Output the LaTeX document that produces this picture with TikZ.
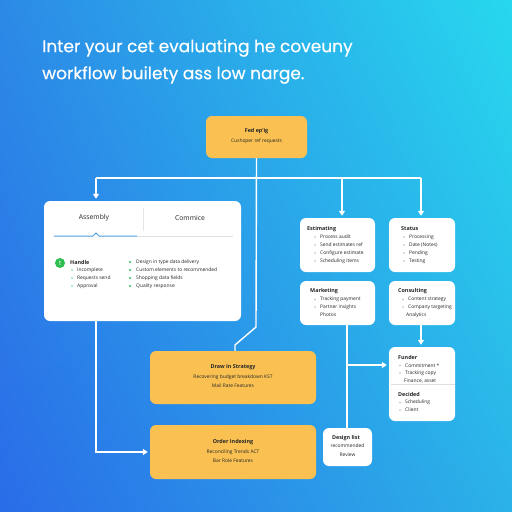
\documentclass[tikz,border=0pt]{standalone}
\usepackage{fontspec}
\setmainfont{Open Sans}
\newfontfamily\titlefont[FakeBold=0.4]{Poppins}
\usetikzlibrary{arrows.meta,shadings}
\definecolor{bgll}{HTML}{2A6CE8}
\definecolor{bglr}{HTML}{2BB2E8}
\definecolor{bgul}{HTML}{2C8AE6}
\definecolor{bgur}{HTML}{27D8EE}
\definecolor{amber}{HTML}{FAC152}
\definecolor{ink}{HTML}{262626}
\definecolor{tabblue}{HTML}{4A9BE0}
\definecolor{okgreen}{HTML}{2DBE4E}
\tikzset{
  wire/.style={draw=white, line width=1.4pt},
  arrow/.style={wire, -{Triangle[length=5pt,width=6pt]}, shorten >=2pt},
  card/.style={fill=white, rounded corners=6pt, inner sep=0pt},
  ybox/.style={fill=amber, rounded corners=6pt, inner sep=0pt},
  txt/.style={font=\fontsize{4.9}{5.5}\selectfont, text=ink, inner sep=0pt, anchor=west},
  hd/.style={txt, font=\fontsize{5.4}{6}\selectfont\bfseries},
  mid/.style={txt, anchor=center},
  dot/.style={circle, fill=gray!55, inner sep=0pt, minimum size=1.6pt},
}
\begin{document}
\begin{tikzpicture}[x=1pt,y=-1pt]
  \useasboundingbox (0,0) rectangle (512,512);
  \shade[lower left=bgll, lower right=bglr, upper left=bgul, upper right=bgur] (0,0) rectangle (512,512);
  % heading
  \node[anchor=west, inner sep=0pt, text=white, font=\titlefont\fontsize{17}{20}\selectfont] (head1) at (42,48) {Inter your cet evaluating he coveuny};
  \node[anchor=west, inner sep=0pt, text=white, font=\titlefont\fontsize{17}{20}\selectfont] (head2) at (42,75) {workflow builety ass low narge.};

  % boxes
  \node[ybox, minimum width=101pt, minimum height=42pt] (feat) at (256.5,137) {};
  \node[card, minimum width=197pt, minimum height=120pt] (acct) at (142.5,261) {};
  \node[card, minimum width=75pt, minimum height=54pt] (estim) at (337.5,245) {};
  \node[card, minimum width=66pt, minimum height=54pt] (status) at (422,245) {};
  \node[card, minimum width=75pt, minimum height=44pt] (mkt) at (337.5,303) {};
  \node[card, minimum width=66pt, minimum height=44pt] (consult) at (422,303) {};
  \node[card, minimum width=66pt, minimum height=74pt] (fund) at (422,384) {};
  \node[card, minimum width=49pt, minimum height=38pt] (design) at (347.5,447) {};
  \node[ybox, minimum width=166pt, minimum height=53pt] (strat) at (233,377.5) {};
  \node[ybox, minimum width=166pt, minimum height=54pt] (order) at (233,452) {};

  % connectors
  \coordinate (busL) at (96,178);
  \coordinate (busA) at (342,178);
  \coordinate (busR) at (421,178);
  \coordinate (bend) at (235,345);
  \coordinate (tap) at (347,365);
  \draw[wire] (busL) -- (busR);
  \draw[arrow] (busL) -- (busL |- acct.north);
  \draw[arrow] (busA) -- (busA |- estim.north);
  \draw[arrow] (busR) -- (busR |- status.north);
  \draw[wire] (feat.south) -- (256,327) -- (bend) -- (bend |- strat.north);
  \draw[arrow] (acct.south -| busL) -- (busL |- order.west) -- (order.west);
  \draw[arrow] (consult.south -| busR) -- (busR |- fund.north);
  \draw[wire] (mkt.south -| tap) -- (tap |- design.north);
  \draw[arrow] (tap) -- (tap -| fund.west);

  % top box
  \node[mid, font=\fontsize{5.4}{6}\selectfont\bfseries] (featT) at (256.5,131) {Fed ep'ig};
  \node[mid] (featS) at (256.5,141) {Cushoper ref requests};

  % tabs
  \node[mid, font=\fontsize{6.8}{8}\selectfont] (tabA) at (94,218) {Assembly};
  \node[mid, font=\fontsize{6.8}{8}\selectfont] (tabC) at (190,218) {Commice};
  \draw[gray!20, line width=0.8pt] (143,208) -- (143,231);
  \draw[gray!25, line width=1pt] (137,236) -- (233,236);
  \draw[tabblue, line width=1pt] (54,236) -- (93,236) -- (96,233) -- (99,236) -- (137,236);
  \node[circle, fill=okgreen, minimum size=10pt, inner sep=0pt, text=white, font=\fontsize{6}{6}\selectfont\bfseries] (chk) at (60,263) {!};
  \node[hd] (hand) at (70,262) {Handle};
  \foreach \t [count=\i] in {Incomplete,Requests send,Approval} {
    \node[dot, fill=okgreen!70] (ad\i) at (72,262+8*\i) {};
    \node[txt] (at\i) at (77,262+8*\i) {\t};
  }
  \foreach \t [count=\i from 0] in {Design in type data delivery,Custom elements to recommended,Shopping data fields,Quality response} {
    \node[dot, fill=okgreen, minimum size=2.2pt] (cd\i) at (130,262+8*\i) {};
    \node[txt] (ct\i) at (136,262+8*\i) {\t};
  }

  % estimating
  \node[hd] (estT) at (307,229) {Estimating};
  \foreach \t [count=\i] in {Process audit,Send estimates ref,Configure estimate,Scheduling items} {
    \node[dot] (ed\i) at (315,229+8*\i) {};
    \node[txt] (et\i) at (320,229+8*\i) {\t};
  }
  % status
  \node[hd] (stT) at (401,229) {Status};
  \foreach \t [count=\i] in {Processing,Date (Notes),Pending,Testing} {
    \node[dot] (sd\i) at (404,229+8*\i) {};
    \node[txt] (st\i) at (409,229+8*\i) {\t};
  }
  % marketing
  \node[hd] (mkT) at (310,291) {Marketing};
  \foreach \t [count=\i] in {Tracking payment,Partner insights} {
    \node[dot] (md\i) at (315,292+7.5*\i) {};
    \node[txt] (mt\i) at (320,292+7.5*\i) {\t};
  }
  \node[txt] (mt3) at (320,315) {Photos};
  % consulting
  \node[hd] (coT) at (398,291) {Consulting};
  \foreach \t [count=\i] in {Content strategy,Company targeting} {
    \node[dot] (od\i) at (403,292+7.5*\i) {};
    \node[txt] (ot\i) at (408,292+7.5*\i) {\t};
  }
  \node[txt] (ot3) at (406,315) {Analytics};
  % funder
  \node[hd] (fuT) at (398,357) {Funder};
  \foreach \t [count=\i] in {Commitment *,Tracking copy} {
    \node[dot] (fd\i) at (400,358+7.5*\i) {};
    \node[txt] (ft\i) at (405,358+7.5*\i) {\t};
  }
  \node[txt] (ft3) at (404,381) {Finance, asset};
  \draw[gray!25, line width=0.6pt] (391,384.5) -- (455,384.5);
  \node[hd] (deT) at (398,394) {Decided};
  \foreach \t [count=\i] in {Scheduling,Client} {
    \node[dot] (dd\i) at (400,395+7.5*\i) {};
    \node[txt] (dt\i) at (405,395+7.5*\i) {\t};
  }
  % design list
  \node[mid, font=\fontsize{5.4}{6}\selectfont\bfseries] (dsT) at (346,438) {Design list};
  \node[mid] (ds1) at (347.5,446) {recommended};
  \node[mid] (ds2) at (347.5,455) {Review};

  % yellow lower boxes
  \node[mid, font=\fontsize{5.4}{6}\selectfont\bfseries] (stT1) at (233,367) {Draw In Strategy};
  \node[mid] (stT2) at (233,377) {Recovering budget breakdown KST};
  \node[mid] (stT3) at (233,386) {Mail Rate Features};
  \node[mid, font=\fontsize{5.4}{6}\selectfont\bfseries] (orT1) at (233,442) {Order Indexing};
  \node[mid] (orT2) at (233,452) {Reconciling Trends ACT};
  \node[mid] (orT3) at (233,461) {Bar Role Features};
\end{tikzpicture}
\end{document}
